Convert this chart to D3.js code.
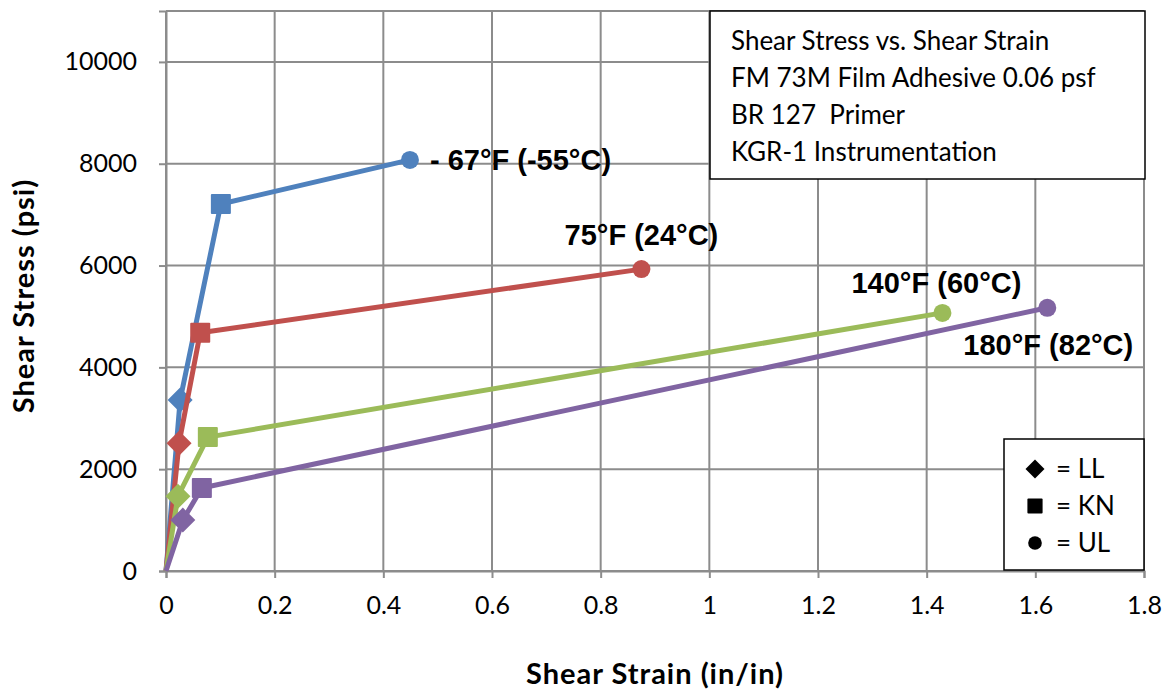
<!DOCTYPE html>
<html lang="en">
<head>
    <meta charset="UTF-8">
    <script src="https://d3js.org/d3.v7.min.js"></script>
    <title>Shear Stress vs. Shear Strain</title>
    <style>
        body {
            margin: 0;
            background-color: #ffffff;
        }

        .tick text {
            font-family: Lato, sans-serif;
            font-size: 25px;
            fill: #000;
        }

        .axis-title {
            font-family: Lato, sans-serif;
            font-weight: bold;
            font-size: 29px;
            letter-spacing: 1px;
        }

        .temp-label {
            font-family: "Liberation Sans", Arial, sans-serif;
            font-weight: bold;
            font-size: 29px;
        }

        .box-text {
            font-family: Lato, sans-serif;
            font-size: 26px;
        }
    </style>
</head>
<body>
    <div id="chart"></div>

    <script>
        const width = 1167;
        const height = 694;
        const margin = { top: 11, right: 23, bottom: 123, left: 166 };

        // series: LL, KN, UL points after the origin
        const seriesNames = ["- 67°F (-55°C)", "75°F (24°C)", "140°F (60°C)", "180°F (82°C)"];
        const seriesColors = ["#4f81bd", "#c0504d", "#9bbb59", "#8064a2"];
        const strain = [
            [0, 0.026, 0.101, 0.449],
            [0, 0.024, 0.063, 0.875],
            [0, 0.022, 0.077, 1.429],
            [0, 0.031, 0.066, 1.622]
        ];
        const stress = [
            [0, 3360, 7210, 8075],
            [0, 2510, 4680, 5930],
            [0, 1470, 2630, 5070],
            [0, 1000, 1630, 5170]
        ];
        // marker per point: none at origin, then LL, KN, UL
        const markerTypes = [null, "diamond", "square", "circle"];

        const xTicks = [0, 0.2, 0.4, 0.6, 0.8, 1, 1.2, 1.4, 1.6, 1.8];
        const yTicks = [0, 2000, 4000, 6000, 8000, 10000];

        const infoLines = [
            "Shear Stress vs. Shear Strain",
            "FM 73M Film Adhesive 0.06 psf",
            "BR 127  Primer",
            "KGR-1 Instrumentation"
        ];
        const legendItems = [
            { type: "diamond", text: "= LL" },
            { type: "square", text: "= KN" },
            { type: "circle", text: "= UL" }
        ];

        const innerW = width - margin.left - margin.right;
        const innerH = height - margin.top - margin.bottom;

        const x = d3.scaleLinear().domain([0, 1.8]).range([0, innerW]);
        const y = d3.scaleLinear().domain([0, 11000]).range([innerH, 0]);

        const svg = d3.select("#chart").append("svg")
            .attr("width", width)
            .attr("height", height);

        const g = svg.append("g")
            .attr("transform", `translate(${margin.left},${margin.top})`);

        const gridColor = "#8c8c8c";

        // gridlines
        g.selectAll(".vgrid")
            .data(xTicks)
            .enter().append("line")
            .attr("x1", d => x(d)).attr("x2", d => x(d))
            .attr("y1", 0).attr("y2", innerH)
            .attr("stroke", gridColor).attr("stroke-width", 2);

        g.selectAll(".hgrid")
            .data(yTicks.concat([11000]))
            .enter().append("line")
            .attr("x1", 0).attr("x2", innerW)
            .attr("y1", d => y(d)).attr("y2", d => y(d))
            .attr("stroke", gridColor).attr("stroke-width", 2);

        // axes
        const xAxis = g.append("g")
            .attr("transform", `translate(0,${innerH})`)
            .call(d3.axisBottom(x).tickValues(xTicks).tickSize(7).tickPadding(18)
                .tickFormat(d => d3.format("")(+d.toFixed(1))));
        const yAxis = g.append("g")
            .call(d3.axisLeft(y).tickValues(yTicks).tickSize(7).tickPadding(22)
                .tickFormat(d3.format("d")));

        [xAxis, yAxis].forEach(a => {
            a.select(".domain").attr("stroke", gridColor).attr("stroke-width", 2);
            a.selectAll(".tick line").attr("stroke", gridColor).attr("stroke-width", 2);
        });

        // axis titles
        svg.append("text")
            .attr("class", "axis-title")
            .attr("x", 655).attr("y", 684)
            .attr("text-anchor", "middle")
            .text("Shear Strain (in/in)");

        svg.append("text")
            .attr("class", "axis-title")
            .attr("transform", "translate(34,296) rotate(-90)")
            .attr("text-anchor", "middle")
            .text("Shear Stress (psi)");

        const drawMarker = (sel, type, cx, cy, color, s) => {
            if (type === "diamond") {
                sel.append("path")
                    .attr("d", `M${cx},${cy - s}L${cx + s},${cy}L${cx},${cy + s}L${cx - s},${cy}Z`)
                    .attr("fill", color);
            } else if (type === "square") {
                sel.append("rect")
                    .attr("x", cx - s * 0.8).attr("y", cy - s * 0.8)
                    .attr("width", s * 1.6).attr("height", s * 1.6)
                    .attr("rx", 1)
                    .attr("fill", color);
            } else if (type === "circle") {
                sel.append("circle")
                    .attr("cx", cx).attr("cy", cy).attr("r", s * 0.72)
                    .attr("fill", color);
            }
        };

        const line = d3.line().x(d => x(d[0])).y(d => y(d[1]));

        seriesNames.forEach((name, i) => {
            const pts = strain[i].map((v, j) => [v, stress[i][j]]);
            const sg = g.append("g");
            sg.append("path")
                .datum(pts)
                .attr("d", line)
                .attr("fill", "none")
                .attr("stroke", seriesColors[i])
                .attr("stroke-width", 5)
                .attr("stroke-linejoin", "round");
            pts.forEach((p, j) => {
                if (markerTypes[j]) drawMarker(sg, markerTypes[j], x(p[0]), y(p[1]), seriesColors[i], 12.5);
            });
        });

        // temperature labels next to the UL points
        const labelOffsets = [
            { dx: 20, dy: 10, anchor: "start" },
            { dx: 0, dy: -24, anchor: "middle" },
            { dx: -6, dy: -20, anchor: "middle" },
            { dx: 1, dy: 47, anchor: "middle" }
        ];
        seriesNames.forEach((name, i) => {
            const last = strain[i].length - 1;
            g.append("text")
                .attr("class", "temp-label")
                .attr("x", x(strain[i][last]) + labelOffsets[i].dx)
                .attr("y", y(stress[i][last]) + labelOffsets[i].dy)
                .attr("text-anchor", labelOffsets[i].anchor)
                .text(name);
        });

        // info box
        const info = svg.append("g");
        info.append("rect")
            .attr("x", 710).attr("y", 11)
            .attr("width", 435).attr("height", 168)
            .attr("fill", "#fff").attr("stroke", "#000").attr("stroke-width", 1.5);
        info.selectAll("text")
            .data(infoLines)
            .enter().append("text")
            .attr("class", "box-text")
            .attr("x", 731)
            .attr("y", (d, i) => 50 + i * 37)
            .attr("xml:space", "preserve")
            .text(d => d);

        // marker legend
        const leg = svg.append("g");
        leg.append("rect")
            .attr("x", 1004).attr("y", 439)
            .attr("width", 140).attr("height", 131)
            .attr("fill", "#fff").attr("stroke", "#000").attr("stroke-width", 1.5);
        legendItems.forEach((d, i) => {
            const cy = 469 + i * 37;
            drawMarker(leg, d.type, 1035, cy, "#000", 9.5);
            leg.append("text")
                .attr("class", "box-text")
                .attr("x", 1056)
                .attr("y", cy + 9)
                .text(d.text);
        });
    </script>
</body>
</html>
